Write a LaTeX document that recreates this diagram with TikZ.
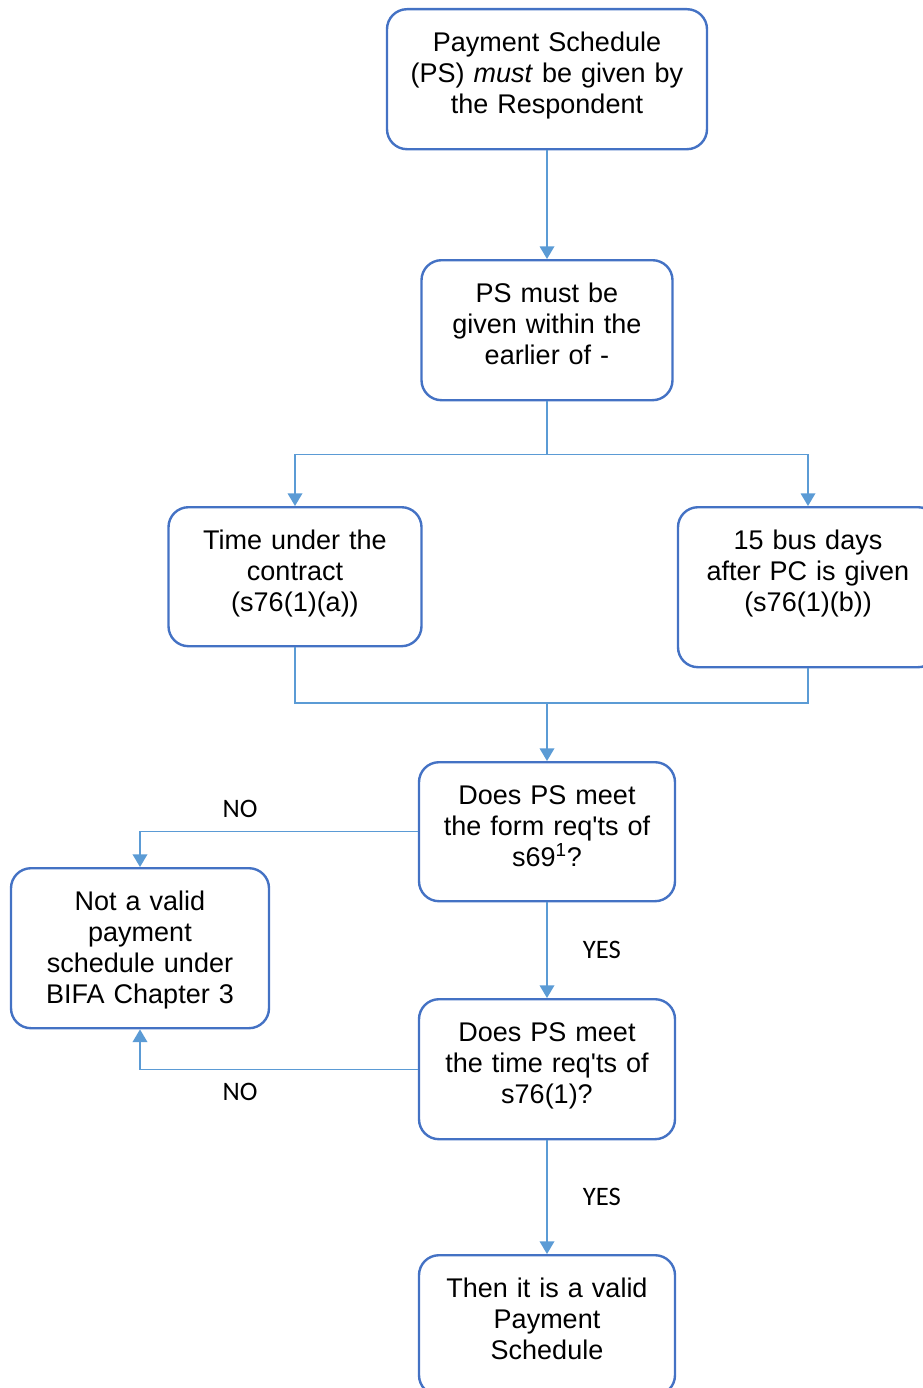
\documentclass[tikz,border=0pt]{standalone}
\usepackage{fontspec}
\setmainfont{Liberation Sans}
\newfontfamily\answerfont{Carlito}
\usetikzlibrary{arrows.meta,positioning,calc}
\definecolor{boxblue}{HTML}{4472C4}
\definecolor{linkblue}{HTML}{5B9BD5}

\tikzset{
  flowbox/.style 2 args={rectangle, rounded corners=15pt, draw=boxblue, line width=1.8pt,
    text width=#1, align=center, inner xsep=4pt, inner ysep=0pt,
    text height=31.5pt, text depth=#2, anchor=north,
    font=\fontsize{20.25pt}{23.25pt}\selectfont},
  linkline/.style={draw=linkblue, line width=1pt},
  link/.style={linkline, -{Triangle[width=11pt,length=9.5pt]}},
  answer/.style={font=\answerfont\fontsize{20pt}{22pt}\selectfont}
}

\begin{document}
\begin{tikzpicture}[x=0.75pt, y=-0.75pt]
    \useasboundingbox (0,0) rectangle (923,1388);

    %Nodes
    \node (PaymentSchedule) [flowbox={232pt}{73.5pt}]   at (547,8)    {Payment Schedule\\(PS) \textit{must} be given by\\the Respondent};
    \node (GivenWithin)     [flowbox={180.25pt}{73.5pt}] at (547,259)  {PS must be\\given within the\\earlier of -};
    \node (TimeContract)    [flowbox={181.75pt}{72.75pt}] at (295,506) {Time under the\\contract\\(s76(1)(a))};
    \node (BusDays)         [flowbox={187pt}{88.5pt}]   at (808,506)  {15 bus days\\after PC is given\\(s76(1)(b))};
    \node (FormReq)         [flowbox={184pt}{72.75pt}]  at (547,761)  {Does PS meet\\the form req\textquotesingle ts of\\s69\textsuperscript{1}?};
    \node (NotValid)        [flowbox={185.5pt}{88.5pt}] at (140,867)  {Not a valid\\payment\\schedule under\\BIFA Chapter 3};
    \node (TimeReq)         [flowbox={184pt}{73.5pt}]   at (547,998)  {Does PS meet\\the time req\textquotesingle ts of\\s76(1)?};
    \node (ValidPS)         [flowbox={184pt}{73.5pt}]   at (547,1254) {Then it is a valid\\Payment\\Schedule};

    \coordinate (Fork) at ($(GivenWithin.south)+(0,53)$);
    \coordinate (Join) at ($(FormReq.north)+(0,-58)$);

    %Lines
    \draw[link] (PaymentSchedule.south) -- (GivenWithin.north);
    \draw[linkline] (GivenWithin.south) -- (Fork);
    \draw[link] (Fork) -| (TimeContract.north);
    \draw[link] (Fork) -| (BusDays.north);
    \draw[linkline] (TimeContract.south) |- (Join) -| (BusDays.south);
    \draw[link] (Join) -- (FormReq.north);
    \draw[link] (FormReq.west) -| (NotValid.north) node[answer, pos=0.32, above=7pt] {NO};
    \draw[link] (TimeReq.west) -| (NotValid.south) node[answer, pos=0.32, below=7pt] {NO};
    \draw[link] (FormReq.south) -- (TimeReq.north) node[answer, midway, right=23pt] {YES};
    \draw[link] (TimeReq.south) -- (ValidPS.north) node[answer, midway, right=23pt] {YES};
\end{tikzpicture}
\end{document}
